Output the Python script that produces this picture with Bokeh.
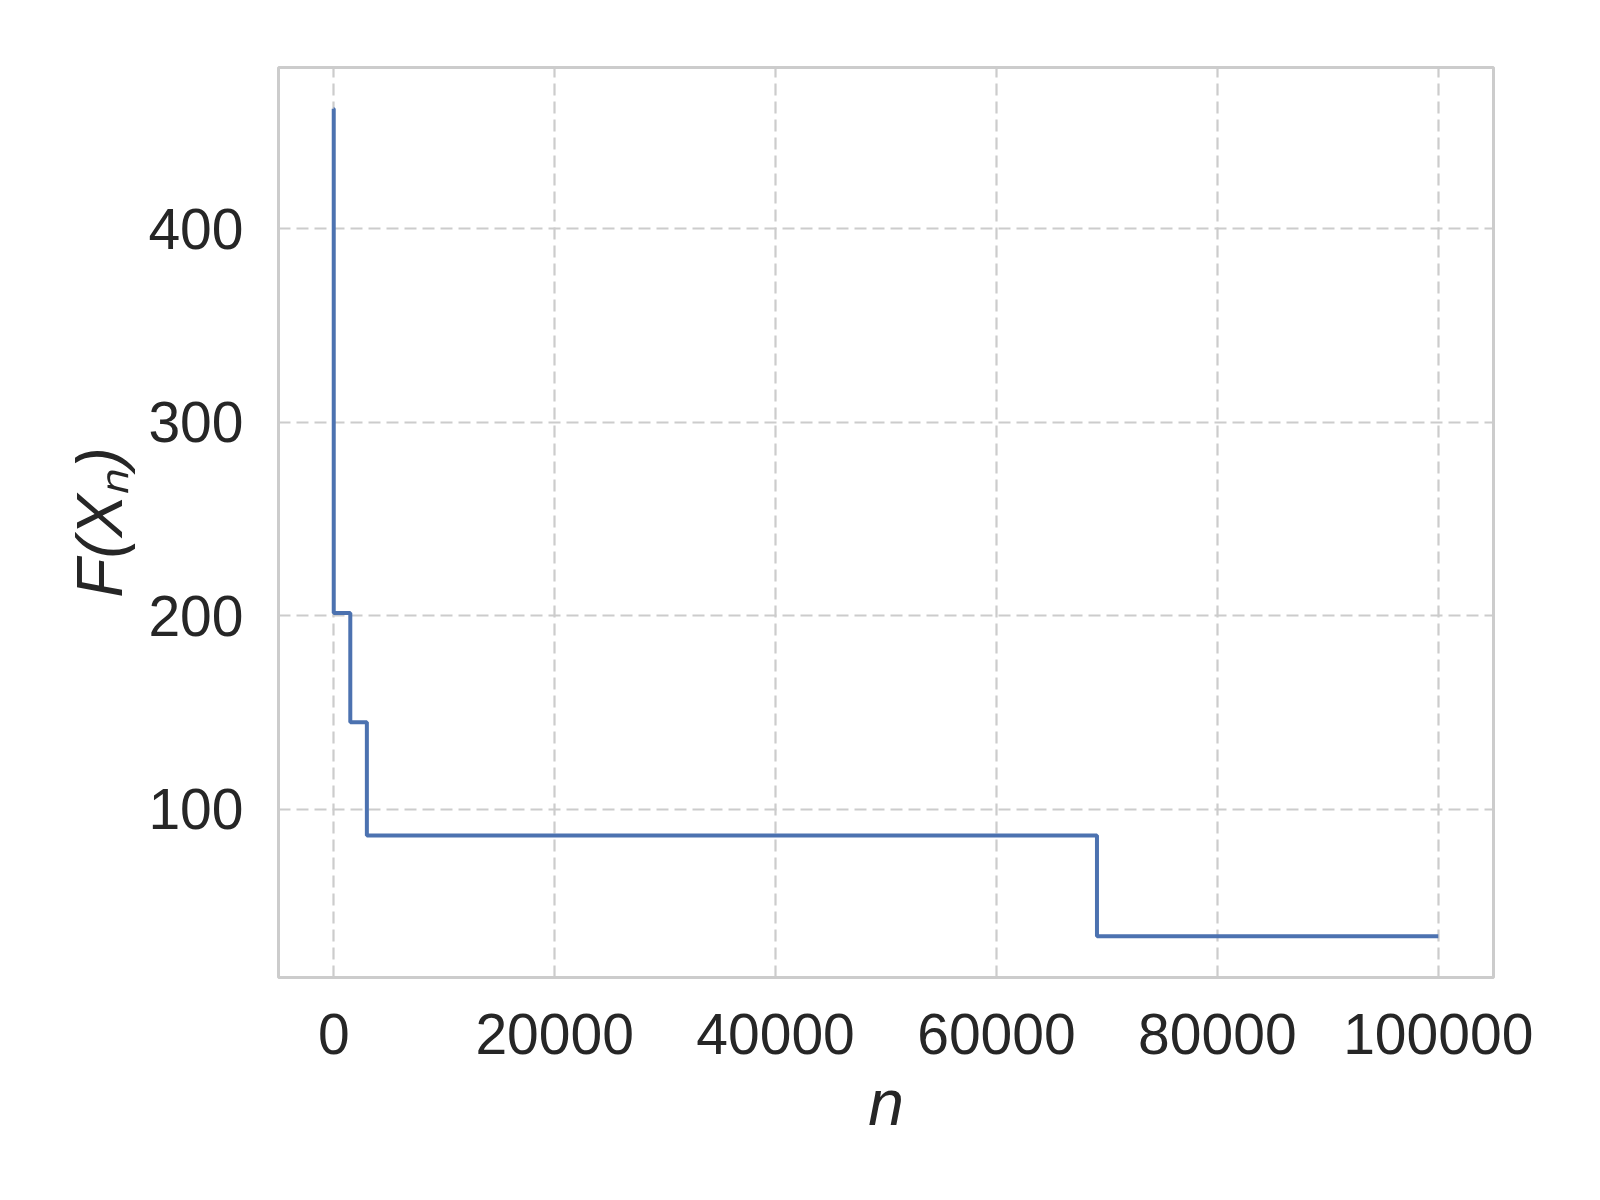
from bokeh.plotting import figure
from bokeh.models import FixedTicker, Range1d
from bokeh.embed import file_html
from bokeh.resources import INLINE

# data
n_vals = [0, 1, 1500, 3000, 69100, 100000]
f_vals = [462.0, 201.5, 145.0, 86.5, 34.5, 34.5]
x_ticks = [0, 20000, 40000, 60000, 80000, 100000]
y_ticks = [100, 200, 300, 400]
x_label = "n"
y_label = "F(X\u2099)"

FONT = "Liberation Sans"
TXT = "#262626"
GRID = "#cccccc"

xmin, xmax = min(n_vals), max(n_vals)
ymin, ymax = min(f_vals), max(f_vals)
xpad = 0.05 * (xmax - xmin)
ypad = 0.05 * (ymax - ymin)

p = figure(width=1584, height=1184, output_backend="svg", toolbar_location=None,
           x_range=Range1d(xmin - xpad, xmax + xpad),
           y_range=Range1d(ymin - ypad, ymax + ypad),
           min_border_left=278, min_border_right=91, min_border_top=67, min_border_bottom=207)
p.background_fill_color = "white"
p.border_fill_color = "white"
p.outline_line_color = GRID
p.outline_line_width = 3

p.step(n_vals, f_vals, mode="after", line_color="#4c72b0", line_width=4)

p.xaxis.ticker = FixedTicker(ticks=x_ticks)
p.yaxis.ticker = FixedTicker(ticks=y_ticks)
for ax in (p.xaxis[0], p.yaxis[0]):
    ax.axis_line_color = None
    ax.major_tick_line_color = None
    ax.minor_tick_line_color = None
    ax.major_tick_out = 0
    ax.major_tick_in = 0
    ax.minor_tick_out = 0
    ax.major_label_text_font = FONT
    ax.major_label_text_font_size = "57px"
    ax.major_label_text_color = TXT
    ax.axis_label_text_font = FONT
    ax.axis_label_text_font_size = "64px"
    ax.axis_label_text_font_style = "italic"
    ax.axis_label_text_color = TXT
p.xaxis.major_label_standoff = 36
p.yaxis.major_label_standoff = 35
p.xaxis.axis_label = x_label
p.xaxis.axis_label_standoff = 10
p.yaxis.axis_label = y_label
p.yaxis.axis_label_standoff = 9
p.xaxis[0].formatter.use_scientific = False

for g in (p.xgrid[0], p.ygrid[0]):
    g.grid_line_color = GRID
    g.grid_line_width = 2.2
    g.grid_line_dash = "12 6"

open("out.html", "w").write(file_html(p, INLINE))
